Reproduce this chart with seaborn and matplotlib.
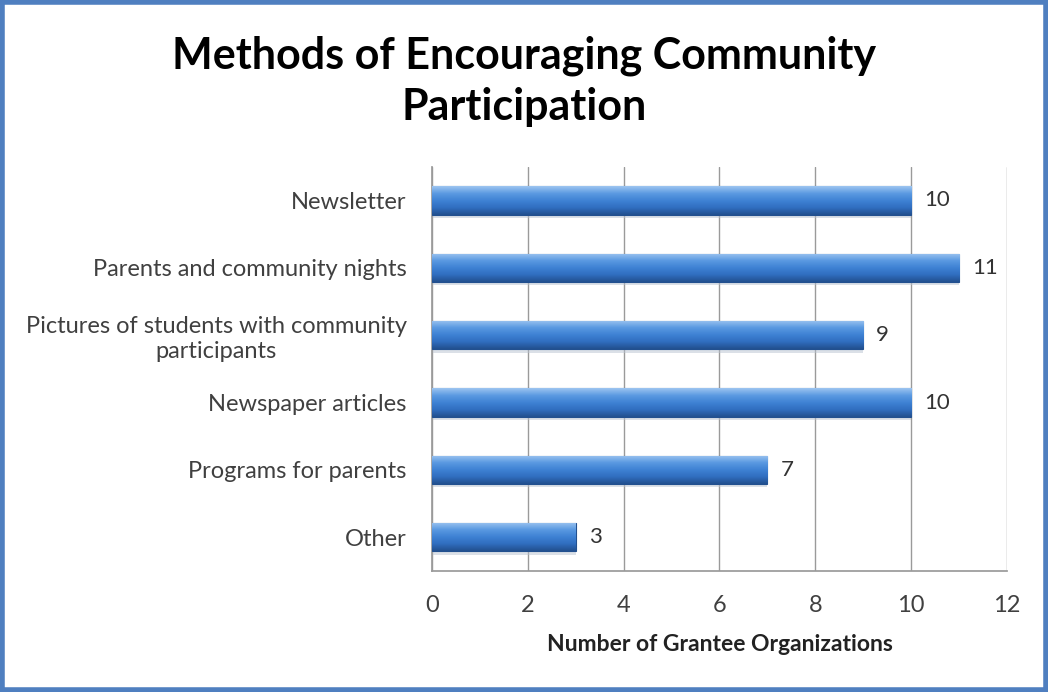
import numpy as np
import pandas as pd
import matplotlib
matplotlib.use("Agg")
import matplotlib.pyplot as plt
from matplotlib.patches import Rectangle
from matplotlib.colors import LinearSegmentedColormap
import seaborn as sns

categories = [
    "Newsletter",
    "Parents and community nights",
    "Pictures of students with community\nparticipants",
    "Newspaper articles",
    "Programs for parents",
    "Other",
]
counts = [10, 11, 9, 10, 7, 3]
x_ticks = [0, 2, 4, 6, 8, 10, 12]

df = pd.DataFrame({"method": categories, "count": counts})

sns.set_theme(style="white")
plt.rcParams["font.family"] = ["Lato", "DejaVu Sans"]

fig = plt.figure(figsize=(10.48, 6.92), dpi=100)
fig.patch.set_facecolor("white")
ax = fig.add_axes([0.412, 0.175, 0.549, 0.584])

sns.barplot(data=df, x="count", y="method", orient="h", color="#3a78c8",
            width=0.42, ax=ax, zorder=3)

# glossy vertical gradient on each bar
grad = LinearSegmentedColormap.from_list(
    "bar", ["#9cc4f0", "#5b9ae2", "#3f82d4", "#306ec0", "#22508f"])
gvals = np.linspace(0, 1, 64).reshape(-1, 1)
for p in ax.patches:
    x0, y0 = p.get_x(), p.get_y()
    w, h = p.get_width(), p.get_height()
    # soft shadow below bar
    ax.add_patch(Rectangle((x0, y0 + h), w, 0.05, color="#b8c2d0", alpha=0.5,
                           lw=0, zorder=2))
    im = ax.imshow(gvals, cmap=grad, aspect="auto",
                   extent=(x0, x0 + w, y0 + h, y0), zorder=4)
    im.set_clip_path(p)
    p.set_edgecolor("#22508f")
    p.set_linewidth(0.8)

for i, v in enumerate(counts):
    ax.text(v + 0.27, i, str(v), va="center", ha="left", fontsize=16,
            color="#333333")

ax.set_xlim(0, 12)
ax.set_ylim(len(categories) - 0.5, -0.5)
ax.set_xticks(x_ticks)
ax.set_xticklabels([str(t) for t in x_ticks], fontsize=17, color="#404040")
ax.tick_params(axis="x", pad=17, length=0)
ax.tick_params(axis="y", pad=18, length=0)
ax.set_yticklabels(categories, fontsize=17, color="#404040")
for lbl in ax.get_yticklabels():
    lbl.set_multialignment("center")
ax.xaxis.grid(True, color="#9a9a9a", lw=1.0, zorder=0)
ax.set_axisbelow(True)
ax.set_xlabel("Number of Grantee Organizations", fontsize=16.5,
              fontweight="bold", color="#222222", labelpad=13)
ax.set_ylabel("")
for side in ["top", "right"]:
    ax.spines[side].set_visible(False)
ax.spines["left"].set_color("#9a9a9a")
ax.spines["bottom"].set_color("#9a9a9a")

fig.text(0.5, 0.882, "Methods of Encouraging Community\nParticipation",
         ha="center", va="center", fontsize=31, fontweight="bold",
         color="black", linespacing=1.33)

fig.add_artist(Rectangle((0.002, 0.003), 0.996, 0.994, transform=fig.transFigure,
                         fill=False, edgecolor="#4f7fc0", lw=4))

fig.savefig("out.png", dpi=100, facecolor="white")
